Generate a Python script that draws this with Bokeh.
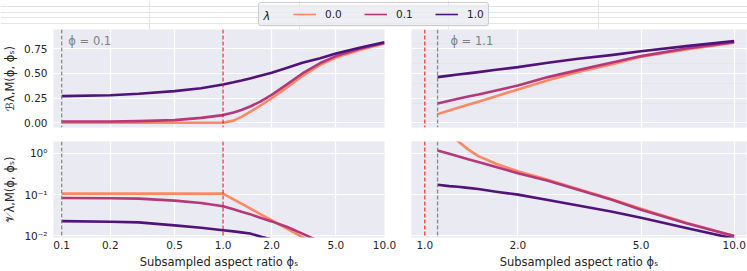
import math
from bokeh.plotting import figure
from bokeh.models import (FixedTicker, Grid, Span, Label, Legend, LegendItem, Range1d, BoxAnnotation)
from bokeh.layouts import column, row
from bokeh.embed import file_html
from bokeh.resources import INLINE

NAN = float("nan")

# ---------------- data ----------------
lambda_labels = ["0.0", "0.1", "1.0"]
line_colors = ["#fc8961", "#b73779", "#51127c"]

phi_left = 0.1
phi_right = 1.1
critical_ratio = 1.0

phis_left = [0.1, 0.2, 0.3, 0.5, 0.73, 1.0, 1.16, 1.3, 1.47, 1.7, 2.0, 2.5, 3.1, 4.0, 5.0, 7.0, 10.0]
bias_left_lam00 = [0.0, 0.0, 0.0, 0.0, 0.0, 0.0, 0.022, 0.060, 0.110, 0.174, 0.249, 0.362, 0.476, 0.588, 0.662, 0.738, 0.804]
bias_left_lam01 = [0.0135, 0.0135, 0.017, 0.027, 0.05, 0.078, 0.104, 0.130, 0.165, 0.214, 0.283, 0.392, 0.500, 0.606, 0.676, 0.750, 0.81]
bias_left_lam10 = [0.270, 0.280, 0.294, 0.321, 0.351, 0.389, 0.410, 0.428, 0.450, 0.476, 0.507, 0.557, 0.608, 0.655, 0.703, 0.76, 0.817]
var_left_lam00 = [0.1057, 0.1057, 0.1057, 0.1057, 0.1057, 0.1057, 0.077, 0.0605, 0.0464, 0.0338, 0.024, 0.0149, 0.0094, 0.0054, NAN, NAN, NAN]
var_left_lam01 = [0.083, 0.0817, 0.080, 0.0718, 0.063, 0.0525, 0.0445, 0.0384, 0.0337, 0.0275, 0.0225, 0.0164, 0.0114, 0.0072, NAN, NAN, NAN]
var_left_lam10 = [0.0229, 0.0221, 0.0213, 0.018, 0.0158, 0.0137, 0.0129, 0.0122, 0.0114, 0.0097, 0.0082, NAN, NAN, NAN, NAN, NAN, NAN]

phis_right = [1.1, 1.2, 1.28, 1.38, 1.49, 1.7, 2.0, 2.5, 3.13, 4.0, 5.0, 7.0, 10.0]
bias_right_lam00 = [0.088, 0.124, 0.152, 0.183, 0.214, 0.270, 0.338, 0.432, 0.514, 0.591, 0.669, 0.743, 0.811]
bias_right_lam01 = [0.196, 0.223, 0.243, 0.267, 0.287, 0.328, 0.378, 0.463, 0.534, 0.608, 0.676, 0.753, 0.818]
bias_right_lam10 = [0.463, 0.478, 0.489, 0.501, 0.514, 0.537, 0.564, 0.608, 0.649, 0.686, 0.726, 0.777, 0.828]
var_right_lam00 = [5.0, 2.9, 1.98, 1.25, 0.86, 0.56, 0.37, 0.229, 0.137, 0.0787, 0.0453, 0.0209, 0.0100]
var_right_lam01 = [1.18, 0.98, 0.847, 0.725, 0.62, 0.469, 0.331, 0.217, 0.132, 0.0759, 0.0429, 0.0202, 0.0100]
var_right_lam10 = [0.174, 0.161, 0.155, 0.146, 0.137, 0.118, 0.100, 0.0745, 0.0544, 0.039, 0.0275, 0.0156, 0.0086]

xticks_left = [0.1, 0.2, 0.5, 1.0, 2.0, 5.0, 10.0]
xtick_labels_left = ["0.1", "0.2", "0.5", "1.0", "2.0", "5.0", "10.0"]
xticks_right = [1.0, 2.0, 5.0, 10.0]
xtick_labels_right = ["1.0", "2.0", "5.0", "10.0"]
yticks_bias = [0.0, 0.25, 0.5, 0.75]
ytick_labels_bias = ["0.00", "0.25", "0.50", "0.75"]
yticks_var = [0.01, 0.1, 1.0]
ytick_labels_var = ["10\u207b\u00b2", "10\u207b\u00b9", "10\u2070"]

xlabel = "Subsampled aspect ratio \u03d5\u209b"
ylabel_bias = "\u212c\u03bb,M(\u03d5, \u03d5\u209b)"
ylabel_var = "\U0001d4b1\u03bb,M(\u03d5, \u03d5\u209b)"
legend_title = "\u03bb"

# ---------------- style ----------------
FONT = "DejaVu Sans"
BG = "#EAEAF2"
TEXT = "#262626"
GRAY = "#808080"
LW = 2.6


def make_fig(width, height, xr, yr, ytype, xloc, yloc, borders):
    left, right, top, bottom = borders
    p = figure(width=width, height=height, x_axis_type="log", y_axis_type=ytype,
               x_range=Range1d(*xr), y_range=Range1d(*yr),
               x_axis_location=xloc, y_axis_location=yloc,
               output_backend="svg", toolbar_location=None,
               min_border_left=left, min_border_right=right,
               min_border_top=top, min_border_bottom=bottom)
    p.background_fill_color = BG
    p.border_fill_color = "white"
    p.outline_line_color = None
    return p


def style_axis(ax, ticks, labels, standoff):
    ax.ticker = FixedTicker(ticks=ticks, minor_ticks=[])
    ax.major_label_overrides = {t: l for t, l in zip(ticks, labels)}
    ax.axis_line_color = None
    ax.major_tick_line_color = None
    ax.minor_tick_line_color = None
    ax.major_tick_out = 0
    ax.major_tick_in = 0
    ax.minor_tick_out = 0
    ax.minor_tick_in = 0
    ax.major_label_text_font = FONT
    ax.major_label_text_font_size = "10.5px"
    ax.major_label_text_color = TEXT
    ax.major_label_standoff = standoff
    ax.axis_label_text_font = FONT
    ax.axis_label_text_font_size = "11.5px"
    ax.axis_label_text_font_style = "normal"
    ax.axis_label_text_color = TEXT


def add_grid(p, dim, ticks):
    g = Grid(dimension=dim, ticker=FixedTicker(ticks=ticks, minor_ticks=[]),
             grid_line_color="white", grid_line_width=1.2)
    p.add_layout(g)


def decorate(p, phi, text_y):
    p.add_layout(Span(location=phi, dimension="height", line_color=GRAY,
                      line_width=1.3, line_dash="4 2", line_alpha=0.9))
    p.add_layout(Span(location=critical_ratio, dimension="height", line_color="red",
                      line_width=1.3, line_dash="4 2", line_alpha=0.8))
    p.add_layout(Label(x=phi * 1.1, y=text_y, x_units="data", y_units="screen",
                       text="\u03d5 = %s" % phi, text_color=GRAY, text_font=FONT,
                       text_font_size="11.5px", text_baseline="middle", text_align="left"))


def draw_lines(p, xs, series):
    for ys, c in zip(series, line_colors):
        p.line(xs, ys, line_color=c, line_width=LW, line_join="round")


XR_LEFT = (0.089, 10.0)
XR_RIGHT = (0.906, 10.96)
YR_BIAS = (-0.0476, 0.9456)
YR_VAR = (0.00916, 1.94)

LEFT_W, RIGHT_W = 397, 350
LEG_H, TOP_H, BOT_H = 29, 105, 137
L_BORDERS_TOP = (47, 13, 0, 7)
R_BORDERS_TOP = (14, 1, 0, 7)
L_BORDERS_BOT = (47, 13, 7, 33)
R_BORDERS_BOT = (14, 1, 7, 33)
TOP_TEXT_Y = 87
BOT_TEXT_Y = -25

# top-left
tl = make_fig(LEFT_W, TOP_H, XR_LEFT, YR_BIAS, "linear", None, "left", L_BORDERS_TOP)
style_axis(tl.yaxis[0], yticks_bias, ytick_labels_bias, 6)
tl.yaxis[0].axis_label = ylabel_bias
tl.yaxis[0].axis_label_standoff = 4
tl.ygrid.grid_line_color = "white"
tl.ygrid.grid_line_width = 1.2
add_grid(tl, 0, xticks_left)
draw_lines(tl, phis_left, [bias_left_lam00, bias_left_lam01, bias_left_lam10])
decorate(tl, phi_left, TOP_TEXT_Y)

# top-right
tr = make_fig(RIGHT_W, TOP_H, XR_RIGHT, YR_BIAS, "linear", None, None, R_BORDERS_TOP)
add_grid(tr, 0, xticks_right)
add_grid(tr, 1, yticks_bias)
draw_lines(tr, phis_right, [bias_right_lam00, bias_right_lam01, bias_right_lam10])
decorate(tr, phi_right, TOP_TEXT_Y)

# bottom-left
bl = make_fig(LEFT_W, BOT_H, XR_LEFT, YR_VAR, "log", "below", "left", L_BORDERS_BOT)
style_axis(bl.yaxis[0], yticks_var, ytick_labels_var, 6)
bl.yaxis[0].axis_label = ylabel_var
bl.yaxis[0].axis_label_standoff = 4
style_axis(bl.xaxis[0], xticks_left, xtick_labels_left, 3)
bl.xaxis[0].axis_label = xlabel
bl.xaxis[0].axis_label_standoff = 3
for g in bl.grid:
    g.grid_line_color = "white"
    g.grid_line_width = 1.2
draw_lines(bl, phis_left, [var_left_lam00, var_left_lam01, var_left_lam10])
decorate(bl, phi_left, BOT_TEXT_Y)

# bottom-right
br = make_fig(RIGHT_W, BOT_H, XR_RIGHT, YR_VAR, "log", "below", None, R_BORDERS_BOT)
style_axis(br.xaxis[0], xticks_right, xtick_labels_right, 3)
br.xaxis[0].axis_label = xlabel
br.xaxis[0].axis_label_standoff = 3
br.xgrid.grid_line_color = "white"
br.xgrid.grid_line_width = 1.2
add_grid(br, 1, yticks_var)
draw_lines(br, phis_right, [var_right_lam00, var_right_lam01, var_right_lam10])
decorate(br, phi_right, BOT_TEXT_Y)

# legend strip
lg = figure(width=LEFT_W + RIGHT_W, height=LEG_H, x_range=Range1d(0, 1), y_range=Range1d(0, 1),
            x_axis_location=None, y_axis_location=None, output_backend="svg",
            toolbar_location=None, min_border=0)
lg.outline_line_color = None
lg.background_fill_color = "white"
lg.border_fill_color = "white"
items = []
for lab, c in zip(lambda_labels, line_colors):
    r = lg.line([5, 6], [5, 6], line_color=c, line_width=1.6)
    items.append(LegendItem(label=lab, renderers=[r]))

# light box behind the legend (legend itself is transparent so the title shows)
lg.add_layout(BoxAnnotation(left=258, right=488, bottom=3, top=25,
                            left_units="screen", right_units="screen",
                            bottom_units="screen", top_units="screen",
                            fill_color=BG, fill_alpha=0.8, line_color=None,
                            level="underlay"))

props = Legend.properties()
kw = dict(items=items, orientation="horizontal", location=(258, 3), padding=4, spacing=22,
          glyph_width=23, glyph_height=14, label_height=14, label_width=17, label_standoff=9,
          label_text_font=FONT, label_text_font_size="10.5px", label_text_color=TEXT,
          border_line_color="#CCCCCC", border_line_width=1, border_line_alpha=1.0,
          background_fill_color=BG, background_fill_alpha=0.0)
if "border_radius" in props:
    kw["border_radius"] = 3
if "title_location" in props:
    kw.update(title=legend_title, title_location="left", title_standoff=17, title_text_font=FONT,
              title_text_font_size="11px", title_text_alpha=0.0)
else:
    kw["location"] = (280, 3)
lg.add_layout(Legend(**kw), "center")
lg.add_layout(Label(x=263, y=14, x_units="screen", y_units="screen", text=legend_title,
                    text_font=FONT, text_font_size="11.5px", text_font_style="italic",
                    text_color=TEXT, text_alpha=1.0, text_baseline="middle", text_align="left",
                    level="overlay"))

root = column(lg, row(tl, tr), row(bl, br))

open("out.html", "w").write(file_html(root, INLINE))
